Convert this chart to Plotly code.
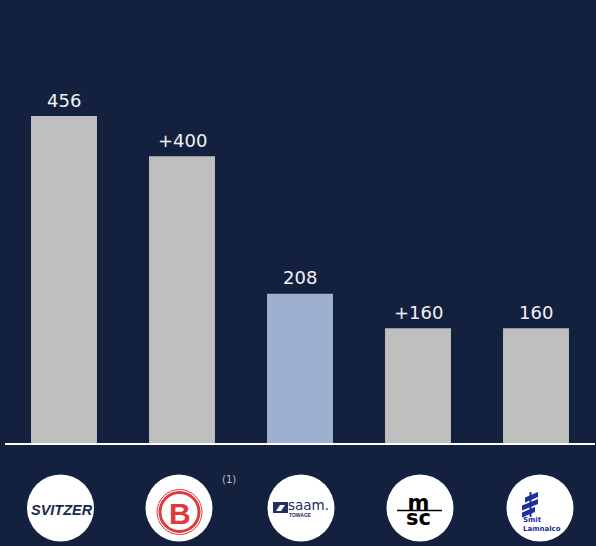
import plotly.graph_objects as go

# ---- data ----
companies = ["Svitzer", "Boluda", "SAAM Towage", "MSC", "Smit Lamnalco"]
fleet = [456, 400, 208, 160, 160]
value_labels = ["456", "+400", "208", "+160", "160"]
highlight = "SAAM Towage"

# ---- style ----
W, H = 596, 546
BASE = 443            # pixel row of the plot-area bottom
BG = "#13213F"
GREY = "#BFBFBF"
BLUE = "#9DB0CF"
logo_cx = [60.5, 179, 301, 420, 540]   # logo circle centres (px)
logo_cy = 508
R = 33.5

colors = [BLUE if c == highlight else GREY for c in companies]

fig = go.Figure(go.Bar(
    x=companies, y=fleet, width=0.559,
    marker=dict(color=colors, line=dict(width=0)),
    hoverinfo="skip",
))

ann = []
for c, v, t in zip(companies, fleet, value_labels):
    ann.append(dict(x=c, y=v, xref="x", yref="y", text=t, showarrow=False,
                    xanchor="center", yanchor="middle", yshift=16,
                    font=dict(family="DejaVu Sans", size=18, color="#F2F2F2")))

shapes = []

def px_shape(kind, cx, x0, x1, y0, y1, **kw):
    shapes.append(dict(type=kind, xref="paper", yref="paper",
                       xsizemode="pixel", ysizemode="pixel",
                       xanchor=cx / W, yanchor=0,
                       x0=x0, x1=x1, y0=BASE - y0, y1=BASE - y1, **kw))

def px_path(cx, pts, color):
    d = "M " + " L ".join(f"{x - cx},{BASE - y}" for x, y in pts) + " Z"
    shapes.append(dict(type="path", xref="paper", yref="paper",
                       xsizemode="pixel", ysizemode="pixel",
                       xanchor=cx / W, yanchor=0, path=d,
                       fillcolor=color, line=dict(width=0)))

def px_text(x, y, text, size, color, family="DejaVu Sans", xanchor="center", align="center"):
    ann.append(dict(xref="paper", yref="paper", x=x / W, y=0, yshift=BASE - y,
                    text=text, showarrow=False, xanchor=xanchor, yanchor="middle",
                    align=align,
                    font=dict(family=family, size=size, color=color)))

# baseline
shapes.append(dict(type="line", xref="paper", yref="paper", ysizemode="pixel",
                   yanchor=0, x0=5 / W, x1=595 / W, y0=-1, y1=-1,
                   line=dict(color="#FFFFFF", width=2)))

# logo circles
for cx in logo_cx:
    px_shape("circle", cx, -R, R, logo_cy + R, logo_cy - R,
             fillcolor="#FFFFFF", line=dict(width=0))

# Svitzer
px_text(logo_cx[0] + 1.5, 510, "<b><i>SVITZER</i></b>", 14.5, "#1A2A4F",
        family="Liberation Sans, Arial, sans-serif")

# Boluda
bx, by = logo_cx[1] + 0.5, 512
RED = "#E0393E"
px_shape("circle", bx, -22.5, 22.5, by + 22.5, by - 22.5,
         fillcolor="rgba(0,0,0,0)", line=dict(color=RED, width=1))
px_shape("circle", bx, -19.5, 19.5, by + 19.5, by - 19.5,
         fillcolor="rgba(0,0,0,0)", line=dict(color=RED, width=3))
px_text(bx, by + 1, "<b>B</b>", 30, RED, family="Liberation Sans, Arial, sans-serif")
px_text(229, 479.5, "(1)", 10, "#BFBFBF")

# SAAM Towage
sx = logo_cx[2]
NAVY = "#26305E"
px_shape("rect", sx, -28, -13, 502, 513, fillcolor=NAVY, line=dict(width=0))
px_path(sx, [(sx - 25, 511), (sx - 20, 511), (sx - 16, 505), (sx - 21, 505)], "#FFFFFF")
px_text(sx + 8, 505, "saam.", 13.5, NAVY)
px_text(sx - 0.5, 514.5, "<b>TOWAGE</b>", 5, NAVY, family="Liberation Sans, Arial, sans-serif")

# MSC
mx = logo_cx[3]
shapes.append(dict(type="line", xref="paper", yref="paper",
                   xsizemode="pixel", ysizemode="pixel", xanchor=mx / W, yanchor=0,
                   x0=-23, x1=22, y0=BASE - 510.5, y1=BASE - 510.5,
                   line=dict(color="#000000", width=1.5)))
px_text(mx - 1.5, 510.5,
        "<b><span style='font-size:21px'>m</span><br><span style='font-size:21px'>sc</span></b>",
        11.8, "#000000")

# Smit Lamnalco
lx = logo_cx[4]
SB = "#1C2F9C"
px_path(lx, [(525, 497.5), (538, 492), (538, 497), (525, 502.5)], SB)
px_path(lx, [(522, 505.5), (538, 499), (538, 504), (522, 510.5)], SB)
px_path(lx, [(522, 512.5), (535, 507), (535, 512), (522, 517.5)], SB)
px_shape("rect", lx, -10.5, -8.5, 492, 517, fillcolor=SB, line=dict(width=0))
px_text(lx - 19, 524.5, "<b>Smit<br>Lamnalco</b>", 7, SB, xanchor="left", align="left")

x0 = -64 / 118
x1 = (W - 64) / 118
ytop = BASE / (327 / 456)

fig.update_layout(
    width=W, height=H,
    margin=dict(l=0, r=0, t=0, b=H - BASE, pad=0),
    paper_bgcolor=BG, plot_bgcolor=BG,
    showlegend=False,
    xaxis=dict(range=[x0, x1], showticklabels=False, showgrid=False,
               zeroline=False, showline=False, ticks="", fixedrange=True),
    yaxis=dict(range=[0, ytop], showticklabels=False, showgrid=False,
               zeroline=False, showline=False, ticks="", fixedrange=True),
    annotations=ann,
    shapes=shapes,
)

fig.write_html("out.html", config={"displayModeBar": False})
